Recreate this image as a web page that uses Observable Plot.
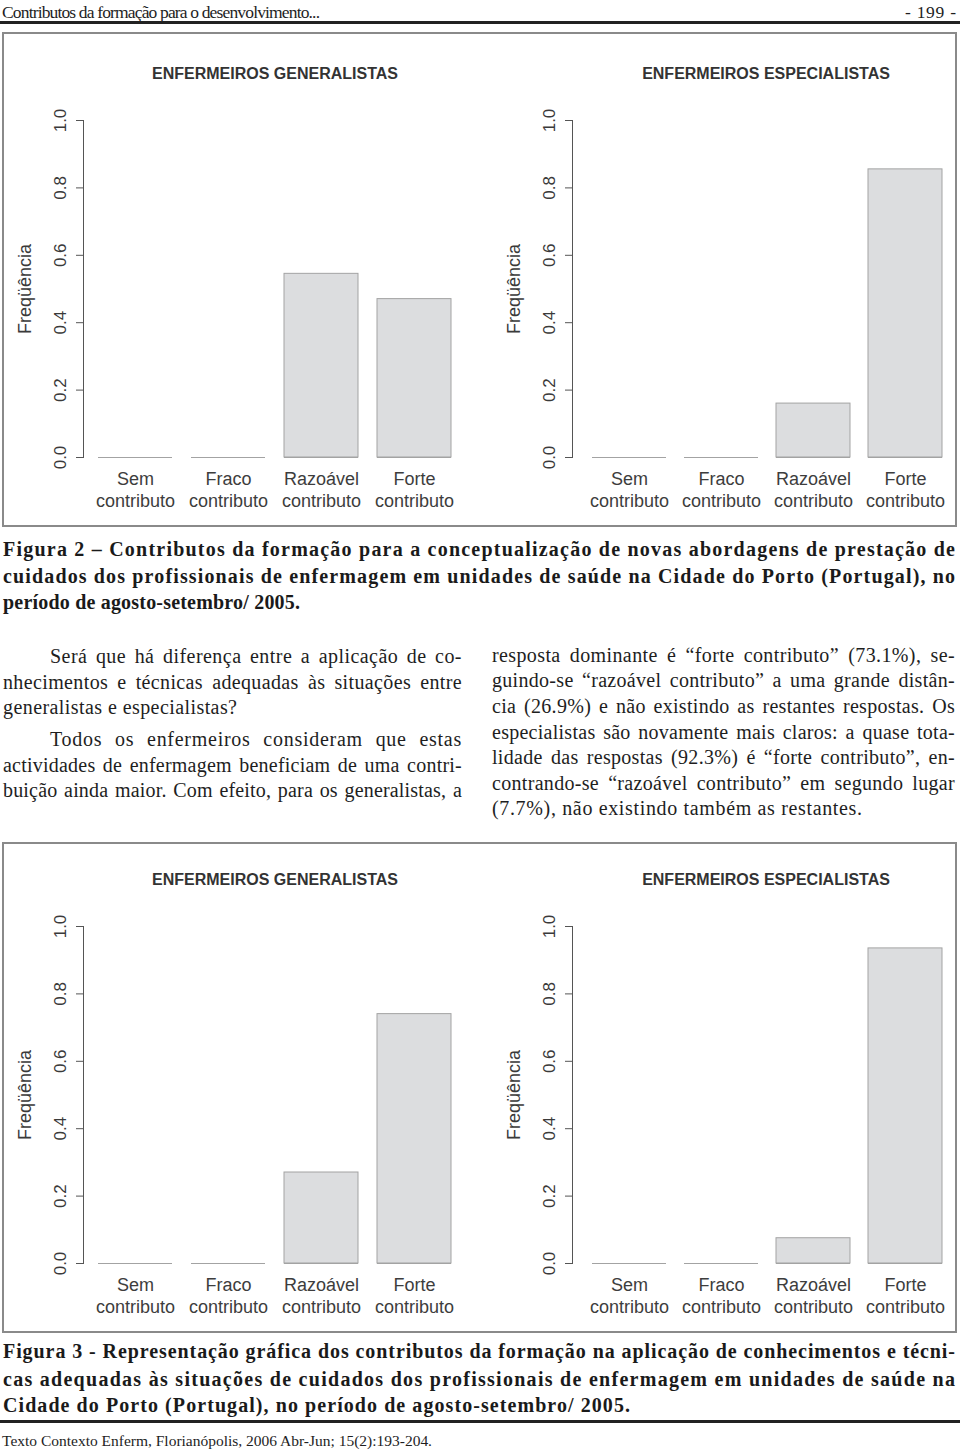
<!DOCTYPE html>
<html><head><meta charset="utf-8">
<script src="https://cdn.jsdelivr.net/npm/d3@7"></script>
<script src="https://cdn.jsdelivr.net/npm/@observablehq/plot@0.6"></script>
<style>
html,body{margin:0;padding:0;background:#fff;}
body{width:960px;height:1450px;position:relative;overflow:hidden;}
.abs{position:absolute;white-space:nowrap;line-height:1;}
.box{position:absolute;border:2px solid #8a8a8a;box-sizing:border-box;}
.rule{position:absolute;left:0;width:960px;height:3px;background:#222;}
.ptitle{position:absolute;font:bold 16px "Liberation Sans",Arial,sans-serif;color:#333;transform:translate(-50%,-50%);white-space:nowrap;}
svg.panel{position:absolute;}
</style></head><body>
<script>
// ---------- data ----------
const categories = ["Sem\ncontributo", "Fraco\ncontributo", "Razoável\ncontributo", "Forte\ncontributo"];
const fig2Generalistas = [0, 0, 0.545, 0.47];
const fig2Especialistas = [0, 0, 0.16, 0.855];
const fig3Generalistas = [0, 0, 0.27, 0.74];
const fig3Especialistas = [0, 0, 0.075, 0.935];
const yTicks = [0, 0.2, 0.4, 0.6, 0.8, 1.0];
const panelTitles = ["ENFERMEIROS GENERALISTAS", "ENFERMEIROS ESPECIALISTAS"];
const yLabel = "Freqüência";

const headerLeft = "Contributos da formação para o desenvolvimento...";
const headerRight = "- 199 -";
const caption2 = [
  "Figura 2 – Contributos da formação para a conceptualização de novas abordagens de prestação de",
  "cuidados dos profissionais de enfermagem em unidades de saúde na Cidade do Porto (Portugal), no",
  "período de agosto-setembro/ 2005."
];
const caption3 = [
  "Figura 3 - Representação gráfica dos contributos da formação na aplicação de conhecimentos e técni-",
  "cas adequadas às situações de cuidados dos profissionais de enfermagem em unidades de saúde na",
  "Cidade do Porto (Portugal), no período de agosto-setembro/ 2005."
];
const bodyLeft = [
  "Será que há diferença entre a aplicação de co-",
  "nhecimentos e técnicas adequadas às situações entre",
  "generalistas e especialistas?",
  "Todos os enfermeiros consideram que estas",
  "actividades de enfermagem beneficiam de uma contri-",
  "buição ainda maior. Com efeito, para os generalistas, a"
];
const bodyRight = [
  "resposta dominante é “forte contributo” (73.1%), se-",
  "guindo-se “razoável contributo” a uma grande distân-",
  "cia (26.9%) e não existindo as restantes respostas. Os",
  "especialistas são novamente mais claros: a quase tota-",
  "lidade das respostas (92.3%) é “forte contributo”, en-",
  "contrando-se “razoável contributo” em segundo lugar",
  "(7.7%), não existindo também as restantes."
];
const footer = "Texto Contexto Enferm, Florianópolis, 2006 Abr-Jun; 15(2):193-204.";

// ---------- helpers ----------
const SERIF = '"Liberation Serif", "Times New Roman", serif';
const SANS = '"Liberation Sans", Arial, sans-serif';

function div(cls, css) {
  const el = document.createElement("div");
  el.className = cls;
  Object.assign(el.style, css);
  document.body.appendChild(el);
  return el;
}

// place one text line; stretch it to a target width (letter, word or mixed spacing)
function line(txt, x, cy, w, o) {
  const size = o.size, el = div("abs", {});
  el.textContent = txt;
  el.style.left = x + "px";
  el.style.top = (cy - 0.58 * size) + "px";
  el.style.font = `${o.weight || "normal"} ${size}px ${o.family || SERIF}`;
  el.style.color = o.color || "#1e1e1e";
  if (o.ls) el.style.letterSpacing = o.ls + "px";
  if (w) {
    const nat = el.getBoundingClientRect().width;
    const nSp = (txt.match(/ /g) || []).length;
    const extra = w - nat;
    if (o.mode === "mixed" && nSp) {
      const ls = 0.45 * extra / (txt.length - 1);
      el.style.letterSpacing = ls + "px";
      const nat2 = el.getBoundingClientRect().width;
      el.style.wordSpacing = ((w - nat2) / nSp) + "px";
    } else {
      el.style.letterSpacing = (extra / (txt.length - 1)) + "px";
    }
  }
  return el;
}

function panel(values, side, top, title) {
  const L = side === 0;
  const data = categories.map((c, i) => ({cat: c, value: values[i]}));
  const svg = Plot.plot({
    width: 476, height: 490,
    marginTop: 86, marginBottom: 67,
    marginLeft: L ? 79 : 92, marginRight: L ? 14 : 8,
    style: {fontFamily: SANS, color: "#3a3a3a", background: "transparent", overflow: "visible"},
    x: {type: "band", domain: categories, range: L ? [93, 448] : [110, 463], paddingInner: 0.2, paddingOuter: 0, axis: null},
    y: {domain: [0, 1], axis: null},
    marks: [
      Plot.frame({anchor: "left", stroke: "#555"}),
      Plot.axisY({ticks: yTicks, tickSize: 7, tickRotate: -90, tickPadding: 11,
        tickFormat: d3.format(".1f"), fontSize: 17, stroke: "#555", fill: "#3a3a3a", label: null}),
      Plot.text([yLabel], {text: d => d, frameAnchor: "left", dx: -58, rotate: -90,
        fontSize: 18, fill: "#3a3a3a", textAnchor: "middle", lineAnchor: "middle"}),
      Plot.barY(data, {x: "cat", y: "value", fill: "#dcdddf", stroke: "#a3a3a3", strokeWidth: 1}),
      Plot.tickY(data, {x: "cat", y: 0, stroke: "#a3a3a3", strokeWidth: 1.2}),
      Plot.text(categories, {x: d => d, text: d => d, frameAnchor: "bottom", lineAnchor: "top",
        dy: 13, fontSize: 18, lineHeight: 1.17, fill: "#3d3d3d"})
    ]
  });
  svg.classList.add("panel");
  svg.style.left = (L ? 4 : 480) + "px";
  svg.style.top = top + "px";
  document.body.appendChild(svg);
  const t = div("ptitle", {left: (L ? 275 : 766) + "px", top: (top + 40) + "px"});
  t.textContent = title;
}

// ---------- page header ----------
line(headerLeft, 2, 12, 318, {size: 17.5});
line(headerRight, 905, 12, 51, {size: 17.5});
div("rule", {top: "21px"});

// ---------- figure 2 ----------
div("box", {left: "2px", top: "32px", width: "955px", height: "495px"});
panel(fig2Generalistas, 0, 34, panelTitles[0]);
panel(fig2Especialistas, 1, 34, panelTitles[1]);
[550, 577, 603].forEach((y, i) =>
  line(caption2[i], 3, y, i < 2 ? 952 : 297, {size: 20, weight: "bold", color: "#1a1a1a"}));

// ---------- body text ----------
const leftY = [657, 683, 708, 740, 766, 791];
const leftX = [50, 3, 3, 50, 3, 3];
bodyLeft.forEach((t, i) =>
  line(t, leftX[i], leftY[i], i === 2 ? 234 : 462 - leftX[i], {size: 20, mode: i === 2 ? "letter" : "mixed"}));
const rightY = [656, 681, 707, 733, 758, 784, 809];
bodyRight.forEach((t, i) =>
  line(t, 492, rightY[i], i === 6 ? 370 : 463, {size: 20, mode: i === 6 ? "letter" : "mixed"}));

// ---------- figure 3 ----------
div("box", {left: "2px", top: "842px", width: "955px", height: "491px"});
panel(fig3Generalistas, 0, 840, panelTitles[0]);
panel(fig3Especialistas, 1, 840, panelTitles[1]);
[1352, 1380, 1406].forEach((y, i) =>
  line(caption3[i], 3, y, i < 2 ? 952 : 627, {size: 20, weight: "bold", color: "#1a1a1a"}));
div("rule", {top: "1420px"});

// ---------- footer ----------
line(footer, 2, 1441, 430, {size: 15.5});
</script>
</body></html>
